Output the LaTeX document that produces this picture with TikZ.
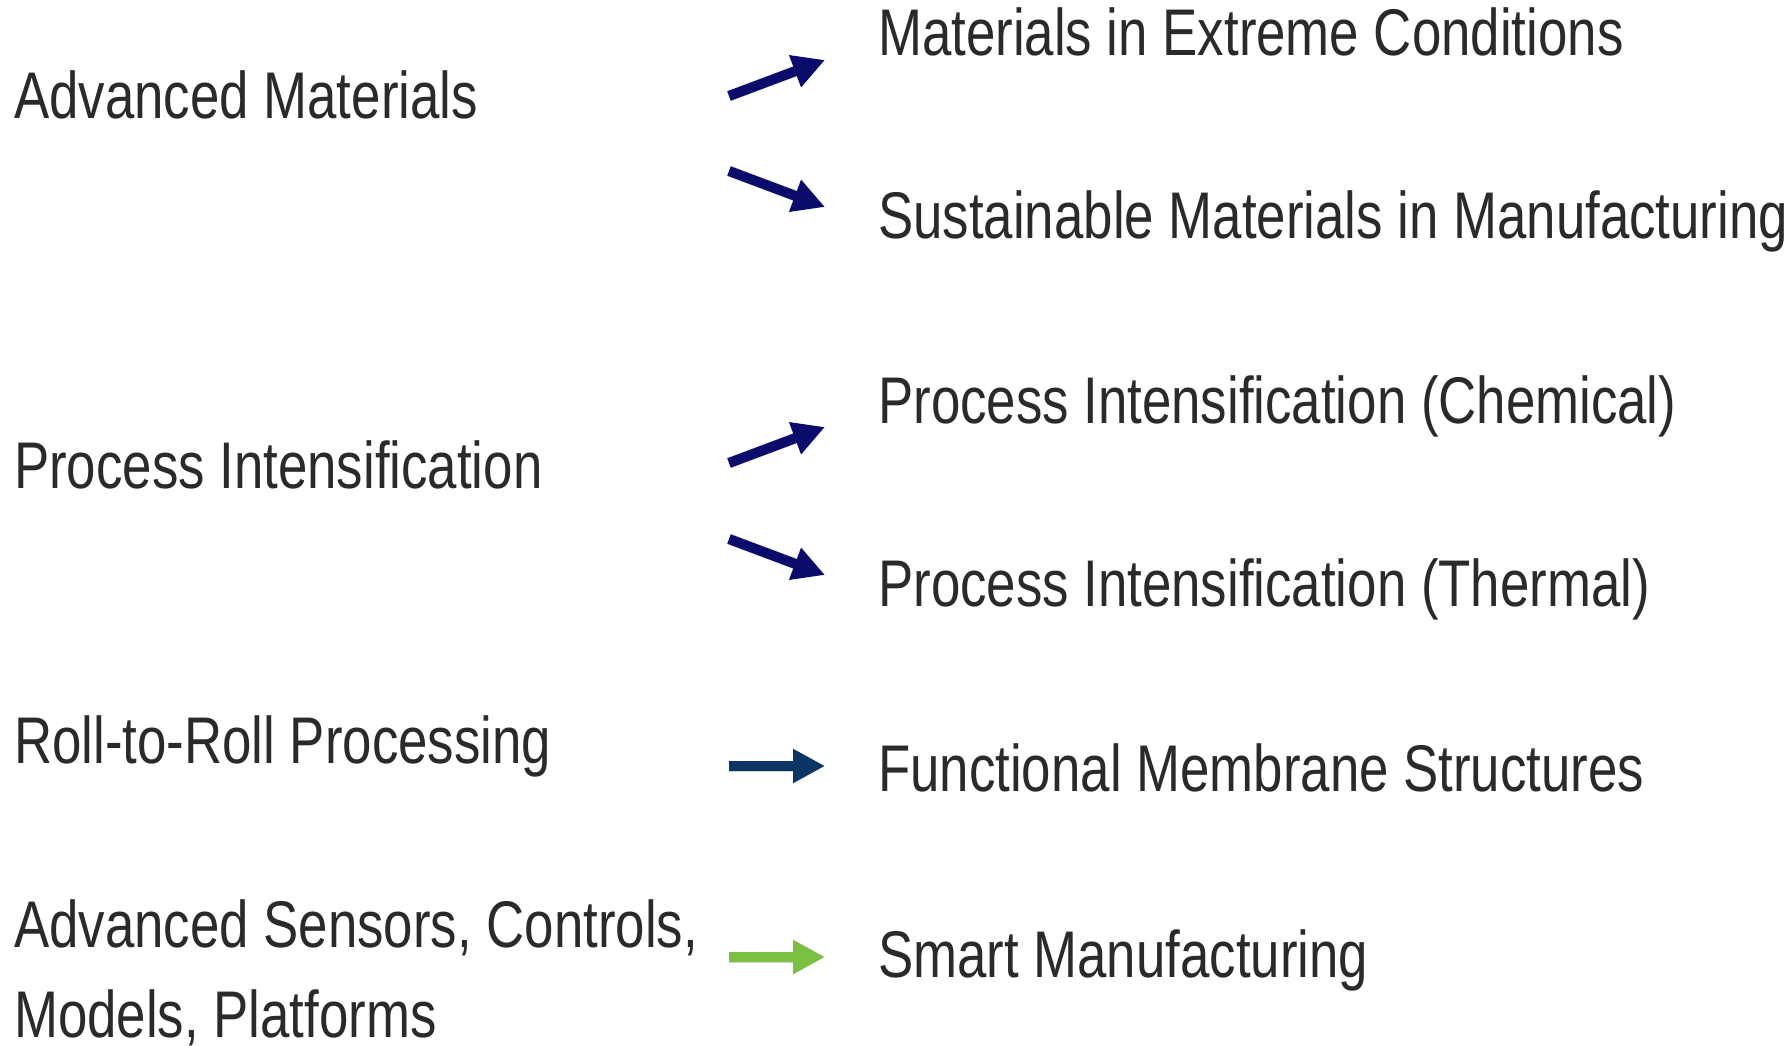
\documentclass[tikz,border=0pt]{standalone}
\usepackage{fontspec}
\setmainfont{Liberation Sans}[FakeStretch=0.8]
\usepackage{xcolor}
\usetikzlibrary{positioning,arrows.meta,calc}
\definecolor{navy}{HTML}{0B0B6C}
\definecolor{deepblue}{HTML}{0C3566}
\definecolor{leaf}{HTML}{7CC043}
\definecolor{ink}{HTML}{2A2A2A}
\begin{document}
\begin{tikzpicture}[
  x=1pt, y=-1pt,
  lbl/.style={anchor=base west, inner sep=0pt, text=ink,
              font=\fontsize{66}{92}\selectfont},
  arr/.style={-{Triangle[length=32pt,width=32pt]}, line width=10pt, navy,
              preaction={draw=black!18, line width=11pt, shift={(2pt,3pt)}}}
]
\useasboundingbox (0,0) rectangle (1792,1045);
% left column
\node[lbl] (am) at (14,118) {Advanced Materials};
\node[lbl] (pi) at (14,488) {Process Intensification};
\node[lbl] (rr) at (14,763) {Roll-to-Roll Processing};
\node[lbl] (as) at (14,947) {Advanced Sensors, Controls,};
\node[lbl] (mp) at (14,1037) {Models, Platforms};
% right column
\node[lbl] (ec) at (878,55) {Materials in Extreme Conditions};
\node[lbl] (sm) at (878,238) {Sustainable Materials in Manufacturing};
\node[lbl] (pc) at (878,423) {Process Intensification (Chemical)};
\node[lbl] (pt) at (878,606) {Process Intensification (Thermal)};
\node[lbl] (fm) at (878,791) {Functional Membrane Structures};
\node[lbl] (sf) at (878,977) {Smart Manufacturing};
% arrow ends
\coordinate (am1) at (729,96);  \coordinate (ec1) at (825,60);
\coordinate (am2) at (729,171); \coordinate (sm1) at (825,207);
\coordinate (pi1) at (729,463); \coordinate (pc1) at (825,427);
\coordinate (pi2) at (729,539); \coordinate (pt1) at (825,575);
\coordinate (rr1) at (729,766); \coordinate (fm1) at (825,766);
\coordinate (as1) at (729,957); \coordinate (sf1) at (825,957);
\foreach \a/\b in {am1/ec1, am2/sm1, pi1/pc1, pi2/pt1}
  \draw[arr] (\a) -- (\b);
\draw[arr, deepblue] (rr1) -- (fm1);
\draw[arr, leaf] (as1) -- (sf1);
\end{tikzpicture}
\end{document}
